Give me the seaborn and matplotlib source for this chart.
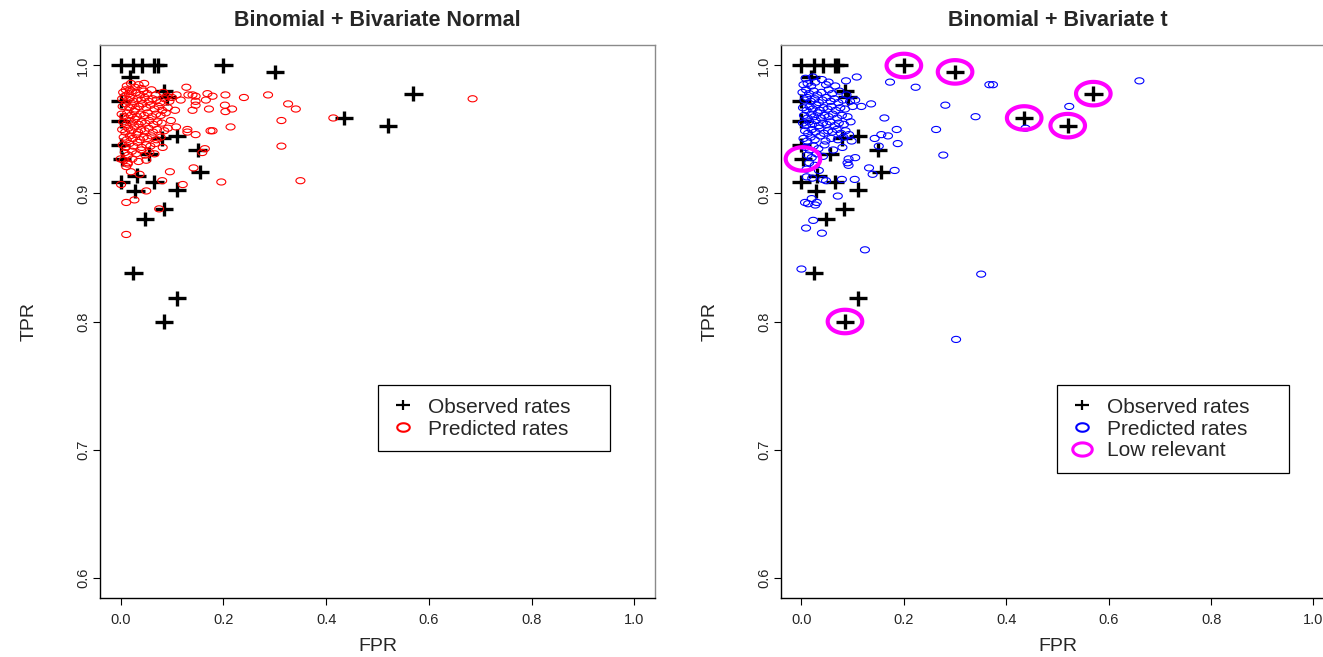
import numpy as np
import matplotlib
matplotlib.use("Agg")
import matplotlib.pyplot as plt
from matplotlib.path import Path
from matplotlib.lines import Line2D
from matplotlib.ticker import FormatStrFormatter
import seaborn as sns

# observed (FPR, TPR) of the studies, same in both panels
obs_fpr = [0.0, 0.025, 0.042, 0.066, 0.072, 0.2, 0.30, 0.018, 0.085, 0.0, 0.09,
           0.0, 0.11, 0.08, 0.0, 0.003, 0.055, 0.15, 0.031, 0.155, 0.0, 0.066,
           0.029, 0.11, 0.084, 0.048, 0.025, 0.11, 0.085, 0.435, 0.52, 0.57]
obs_tpr = [1.0, 1.0, 1.0, 1.0, 1.0, 1.0, 0.995, 0.991, 0.980, 0.972, 0.975,
           0.957, 0.945, 0.943, 0.938, 0.927, 0.931, 0.934, 0.914, 0.917, 0.909, 0.909,
           0.902, 0.903, 0.888, 0.880, 0.838, 0.818, 0.800, 0.959, 0.953, 0.978]

# the studies flagged as low relevant in the t model
low_fpr = [0.2, 0.30, 0.003, 0.085, 0.435, 0.52, 0.57]
low_tpr = [1.0, 0.995, 0.927, 0.800, 0.959, 0.953, 0.978]

# predicted rates, binomial + bivariate normal
pred_normal = [
    (0.012, 0.984), (0.020, 0.986), (0.028, 0.983), (0.035, 0.985), (0.041, 0.982), (0.018, 0.981),
    (0.005, 0.979), (0.010, 0.981), (0.016, 0.978), (0.022, 0.980), (0.030, 0.979), (0.038, 0.977),
    (0.045, 0.980), (0.052, 0.978), (0.060, 0.981), (0.068, 0.977), (0.083, 0.979), (0.090, 0.976),
    (0.003, 0.974), (0.008, 0.976), (0.014, 0.973), (0.019, 0.975), (0.025, 0.972), (0.033, 0.974),
    (0.040, 0.973), (0.047, 0.975), (0.055, 0.972), (0.062, 0.974), (0.070, 0.973), (0.077, 0.971),
    (0.086, 0.974), (0.095, 0.972), (0.100, 0.975),
    (0.004, 0.968), (0.010, 0.970), (0.017, 0.967), (0.023, 0.969), (0.029, 0.966), (0.036, 0.968),
    (0.043, 0.970), (0.050, 0.967), (0.058, 0.969), (0.066, 0.966), (0.074, 0.968), (0.081, 0.965),
    (0.092, 0.967),
    (0.002, 0.962), (0.007, 0.960), (0.013, 0.963), (0.020, 0.961), (0.026, 0.964), (0.032, 0.960),
    (0.039, 0.962), (0.046, 0.961), (0.053, 0.963), (0.061, 0.960), (0.069, 0.962), (0.078, 0.961),
    (0.088, 0.963),
    (0.005, 0.956), (0.011, 0.954), (0.016, 0.957), (0.022, 0.955), (0.028, 0.958), (0.035, 0.954),
    (0.041, 0.956), (0.048, 0.955), (0.056, 0.957), (0.064, 0.954), (0.072, 0.956), (0.080, 0.955),
    (0.098, 0.957),
    (0.003, 0.950), (0.009, 0.948), (0.015, 0.951), (0.021, 0.949), (0.027, 0.952), (0.034, 0.948),
    (0.040, 0.950), (0.047, 0.949), (0.055, 0.951), (0.063, 0.948), (0.071, 0.950), (0.085, 0.949),
    (0.092, 0.951),
    (0.006, 0.944), (0.012, 0.942), (0.018, 0.945), (0.024, 0.943), (0.031, 0.946), (0.038, 0.942),
    (0.045, 0.944), (0.052, 0.943), (0.060, 0.945), (0.070, 0.942), (0.078, 0.944),
    (0.004, 0.938), (0.010, 0.936), (0.017, 0.939), (0.025, 0.937), (0.033, 0.940), (0.041, 0.936),
    (0.050, 0.938), (0.058, 0.937), (0.067, 0.939), (0.082, 0.936),
    (0.008, 0.932), (0.015, 0.930), (0.022, 0.933), (0.030, 0.931), (0.040, 0.934), (0.048, 0.930),
    (0.056, 0.932), (0.066, 0.931),
    (0.006, 0.926), (0.014, 0.924), (0.023, 0.927), (0.035, 0.925), (0.050, 0.926),
    # the spread-out ones
    (0.046, 0.986), (0.128, 0.983), (0.109, 0.977), (0.117, 0.973), (0.132, 0.977), (0.140, 0.977),
    (0.146, 0.976), (0.169, 0.978), (0.179, 0.976), (0.166, 0.973), (0.146, 0.972), (0.146, 0.969),
    (0.204, 0.977), (0.240, 0.975), (0.287, 0.977), (0.326, 0.970), (0.341, 0.966), (0.203, 0.969),
    (0.217, 0.966), (0.204, 0.964), (0.172, 0.966), (0.140, 0.965), (0.106, 0.965), (0.313, 0.957),
    (0.414, 0.959), (0.214, 0.952), (0.175, 0.949), (0.179, 0.949), (0.130, 0.950), (0.130, 0.948),
    (0.146, 0.946), (0.108, 0.952), (0.313, 0.937), (0.164, 0.935), (0.159, 0.932), (0.142, 0.920),
    (0.096, 0.917), (0.196, 0.909), (0.350, 0.910), (0.121, 0.907), (0.081, 0.910), (0.050, 0.902),
    (0.027, 0.895), (0.011, 0.893), (0.075, 0.888), (0.011, 0.868), (0.001, 0.907), (0.037, 0.915),
    (0.020, 0.917), (0.014, 0.923), (0.011, 0.921), (0.000, 0.927), (0.685, 0.974),
]

# predicted rates, binomial + bivariate t
pred_t = [
    (0.008, 0.990), (0.022, 0.991), (0.040, 0.989),
    (0.004, 0.985), (0.012, 0.986), (0.019, 0.984), (0.027, 0.987), (0.048, 0.985), (0.066, 0.984),
    (0.002, 0.979), (0.009, 0.981), (0.015, 0.978), (0.024, 0.980), (0.031, 0.977), (0.039, 0.979),
    (0.053, 0.981), (0.060, 0.978), (0.074, 0.980), (0.088, 0.977),
    (0.006, 0.973), (0.011, 0.975), (0.018, 0.972), (0.026, 0.974), (0.034, 0.971), (0.041, 0.973),
    (0.049, 0.975), (0.057, 0.972), (0.064, 0.974), (0.072, 0.971), (0.081, 0.973), (0.095, 0.972),
    (0.003, 0.967), (0.010, 0.965), (0.016, 0.968), (0.022, 0.966), (0.029, 0.969), (0.036, 0.965),
    (0.043, 0.967), (0.051, 0.966), (0.058, 0.968), (0.067, 0.965), (0.076, 0.967), (0.085, 0.966),
    (0.100, 0.968),
    (0.005, 0.961), (0.012, 0.959), (0.019, 0.962), (0.025, 0.960), (0.032, 0.963), (0.038, 0.959),
    (0.045, 0.961), (0.053, 0.960), (0.061, 0.962), (0.070, 0.959), (0.079, 0.961), (0.090, 0.960),
    (0.003, 0.955), (0.009, 0.953), (0.015, 0.956), (0.021, 0.954), (0.028, 0.957), (0.034, 0.953),
    (0.042, 0.955), (0.049, 0.954), (0.056, 0.956), (0.065, 0.953), (0.073, 0.955), (0.083, 0.954),
    (0.096, 0.956),
    (0.007, 0.949), (0.013, 0.947), (0.020, 0.950), (0.027, 0.948), (0.035, 0.951), (0.044, 0.947),
    (0.052, 0.949), (0.060, 0.948), (0.069, 0.950), (0.077, 0.947), (0.086, 0.949), (0.093, 0.946),
    (0.004, 0.943), (0.011, 0.941), (0.018, 0.944), (0.026, 0.942), (0.037, 0.945), (0.047, 0.941),
    (0.058, 0.943), (0.071, 0.942), (0.082, 0.944), (0.098, 0.941),
    (0.008, 0.936), (0.016, 0.934), (0.024, 0.937), (0.033, 0.935), (0.045, 0.938), (0.062, 0.934),
    (0.080, 0.936),
    (0.012, 0.930), (0.020, 0.928), (0.030, 0.931), (0.042, 0.929),
    (0.015, 0.924), (0.026, 0.922), (0.010, 0.919), (0.034, 0.918),
    # the spread-out ones
    (0.108, 0.991), (0.087, 0.988), (0.053, 0.987), (0.173, 0.987), (0.223, 0.983), (0.105, 0.973),
    (0.136, 0.970), (0.117, 0.968), (0.281, 0.969), (0.367, 0.985), (0.374, 0.985), (0.162, 0.959),
    (0.186, 0.950), (0.156, 0.946), (0.169, 0.945), (0.143, 0.943), (0.188, 0.939), (0.151, 0.937),
    (0.263, 0.950), (0.340, 0.960), (0.277, 0.930), (0.4375, 0.951), (0.660, 0.988), (0.523, 0.968),
    (0.105, 0.928), (0.092, 0.927), (0.090, 0.924), (0.092, 0.922), (0.132, 0.920), (0.139, 0.915),
    (0.182, 0.918), (0.104, 0.911), (0.079, 0.911), (0.042, 0.911), (0.048, 0.910), (0.021, 0.912),
    (0.010, 0.913), (0.071, 0.898), (0.020, 0.896), (0.030, 0.893), (0.027, 0.891), (0.007, 0.893),
    (0.013, 0.892), (0.023, 0.879), (0.040, 0.869), (0.009, 0.873), (0.124, 0.856), (0.000, 0.841),
    (0.351, 0.837), (0.302, 0.786),
]

sns.set_style("ticks")
plt.rcParams["font.family"] = ["Liberation Sans", "DejaVu Sans"]

# the source picture is squashed vertically, so the circles are ellipses
t = np.linspace(0, 2 * np.pi, 61)
ring = Path(np.column_stack([np.cos(t), 0.68 * np.sin(t)]), closed=True)
plus = Path([(-1, 0), (1, 0), (0, -0.78), (0, 0.78)],
            [Path.MOVETO, Path.LINETO, Path.MOVETO, Path.LINETO])
MAGENTA = "#ff00ff"

fig = plt.figure(figsize=(13.23, 6.57), dpi=100)
ax1 = fig.add_axes([0.0756, 0.0898, 0.4195, 0.8417])
ax2 = fig.add_axes([0.5903, 0.0898, 0.418, 0.8417])


def draw_panel(ax, pred, color, title, show_low):
    fpr = [p[0] for p in pred]
    tpr = [p[1] for p in pred]
    sns.scatterplot(x=obs_fpr, y=obs_tpr, ax=ax, marker=plus, s=175,
                    facecolor="none", edgecolor="black", linewidth=2.4, legend=False)
    sns.scatterplot(x=fpr, y=tpr, ax=ax, marker=ring, s=42,
                    facecolor="none", edgecolor=color, linewidth=0.8, legend=False)
    if show_low:
        sns.scatterplot(x=low_fpr, y=low_tpr, ax=ax, marker=ring, s=620,
                        facecolor="none", edgecolor=MAGENTA, linewidth=3.0, legend=False)

    ax.set_xlim(-0.04, 1.04)
    ax.set_ylim(0.584, 1.016)
    ax.set_xticks([0.0, 0.2, 0.4, 0.6, 0.8, 1.0])
    ax.set_yticks([0.6, 0.7, 0.8, 0.9, 1.0])
    ax.xaxis.set_major_formatter(FormatStrFormatter("%.1f"))
    ax.yaxis.set_major_formatter(FormatStrFormatter("%.1f"))
    ax.tick_params(direction="out", length=5, width=0.8, labelsize=10.5, color="black")
    ax.tick_params(axis="x", pad=6)
    ax.tick_params(axis="y", pad=2)
    plt.setp(ax.get_yticklabels(), rotation=90, va="center")
    for side in ["left", "bottom"]:
        ax.spines[side].set_color("black")
        ax.spines[side].set_linewidth(1.0)
    for side in ["top", "right"]:
        ax.spines[side].set_color("#8a8a8a")
        ax.spines[side].set_linewidth(1.0)
    ax.set_xlabel("FPR", fontsize=14, labelpad=8)
    ax.set_ylabel("TPR", fontsize=14, labelpad=28)
    ax.set_title(title, fontsize=15.5, fontweight="bold", pad=14)

    handles = [
        Line2D([], [], linestyle="none", marker=plus, markersize=10, markeredgewidth=1.6,
               markerfacecolor="none", markeredgecolor="black"),
        Line2D([], [], linestyle="none", marker=ring, markersize=9, markeredgewidth=1.5,
               markerfacecolor="none", markeredgecolor=color),
    ]
    labels = ["Observed rates", "Predicted rates"]
    if show_low:
        handles.append(Line2D([], [], linestyle="none", marker=ring, markersize=14,
                              markeredgewidth=2.2, markerfacecolor="none",
                              markeredgecolor=MAGENTA))
        labels.append("Low relevant")
    leg = ax.legend(handles, labels, loc="upper left", bbox_to_anchor=(0.5, 0.385, 0.418, 0.0),
                    mode="expand", borderaxespad=0, fontsize=15, frameon=True, fancybox=False,
                    edgecolor="black", framealpha=1, handlelength=1.2, handletextpad=0.6,
                    labelspacing=0.14, borderpad=0.6)
    leg.get_frame().set_linewidth(0.9)


draw_panel(ax1, pred_normal, "red", "Binomial + Bivariate Normal", False)
draw_panel(ax2, pred_t, "blue", "Binomial + Bivariate t", True)

fig.savefig("out.png", dpi=100)
